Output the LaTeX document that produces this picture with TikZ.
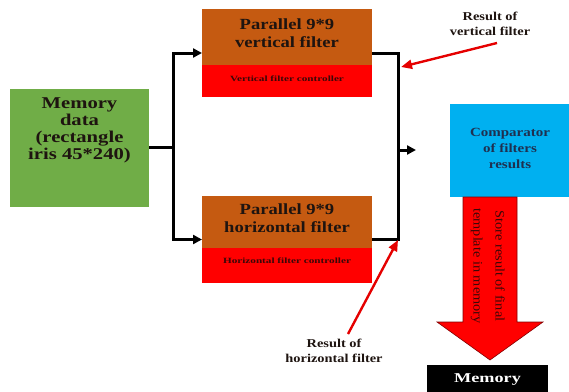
\documentclass[tikz,border=0pt]{standalone}
\usepackage{fontspec}
\setmainfont{Liberation Serif}
\usetikzlibrary{arrows.meta}
\definecolor{grn}{HTML}{70AD47}
\definecolor{brn}{HTML}{C55A11}
\definecolor{cyn}{HTML}{00B0F0}
\definecolor{txtdark}{HTML}{1E1410}
\definecolor{navy}{HTML}{1F3050}
\definecolor{ctl}{HTML}{3A0808}
\newcommand{\wtxt}[3]{\scalebox{#1}[1]{#2\begin{tabular}{@{}c@{}}#3\end{tabular}}}
\tikzset{
  box/.style={rectangle, inner sep=0pt, outer sep=0pt},
  lbl/.style={inner sep=0pt, outer sep=0pt},
  conn/.style={line width=3pt, black},
  connar/.style={conn, -{Triangle[length=9pt,width=9pt]}},
  redar/.style={line width=2.4pt, red!90!black, -{Triangle[length=11pt,width=9pt]}},
}
\begin{document}
\begin{tikzpicture}[x=1pt,y=-1pt]
\useasboundingbox (0,0) rectangle (569,391);
% memory data
\node[box, fill=grn, minimum width=139pt, minimum height=118pt] (mem) at (79.5,147.5) {};
\node[lbl, text=txtdark] (memt) at (79.5,131) {\wtxt{1.25}{\fontsize{16.5}{17}\selectfont\bfseries}{Memory\\data\\(rectangle\\iris 45*240)}};
% top filter
\node[box, fill=red, minimum width=170pt, minimum height=88pt] (topf) at (287,53) {};
\node[box, fill=brn, minimum width=170pt, minimum height=56pt, anchor=north] (topb) at (topf.north) {};
\node[lbl, text=txtdark] (topt) at (287,35) {\wtxt{1.2}{\fontsize{15.5}{18}\selectfont\bfseries}{Parallel 9*9\\vertical filter}};
\node[lbl, text=ctl] (topc) at (287,80) {\wtxt{1.4}{\fontsize{8}{9}\selectfont\bfseries}{Vertical filter controller}};
% bottom filter
\node[box, fill=red, minimum width=170pt, minimum height=87pt] (botf) at (287,239.5) {};
\node[box, fill=brn, minimum width=170pt, minimum height=52pt, anchor=north] (botb) at (botf.north) {};
\node[lbl, text=txtdark] (bott) at (287,220) {\wtxt{1.2}{\fontsize{15.5}{18}\selectfont\bfseries}{Parallel 9*9\\horizontal filter}};
\node[lbl, text=ctl] (botc) at (287,262) {\wtxt{1.4}{\fontsize{8}{9}\selectfont\bfseries}{Horizontal filter controller}};
% comparator
\node[box, fill=cyn, minimum width=119pt, minimum height=93pt] (cmp) at (509.5,150.5) {};
\node[lbl, text=navy] (cmpt) at (510,149) {\wtxt{1.2}{\fontsize{12.5}{16}\selectfont\bfseries}{Comparator\\of filters\\results}};
% memory output
\node[box, fill=black, minimum width=121pt, minimum height=32pt] (out) at (487.5,381) {};
\node[lbl, text=white] (outt) at (487.5,379) {\wtxt{1.35}{\fontsize{13.5}{15}\selectfont\bfseries}{Memory}};
% big red arrow
\draw[fill=red, draw=red!50!black, line width=0.6pt]
  (463,197) -- (517,197) -- (517,322) -- (543,322) -- (490,360) -- (437,322) -- (463,322) -- cycle;
\node[lbl, rotate=-90, text=ctl] (store) at (489,266) {\wtxt{1.1}{\fontsize{13}{22}\selectfont}{Store result of final\\template in memory}};
% connectors
\coordinate (sp) at (173,147.5);
\coordinate (jn) at (398,150);
\coordinate (ja) at (416,150);
\draw[conn] (mem.east) -- (sp);
\draw[connar] (sp) |- (topf.west);
\draw[connar] (sp) |- (botf.west);
\draw[conn] (topf.east) -| (jn);
\draw[conn] (botf.east) -| (jn);
\draw[connar] (jn) -- (ja);
% result labels
\node[lbl, text=txtdark] (rv) at (490,25) {\wtxt{1.2}{\fontsize{12}{15}\selectfont\bfseries}{Result of\\vertical filter}};
\node[lbl, text=txtdark] (rh) at (334,352) {\wtxt{1.2}{\fontsize{12}{15}\selectfont\bfseries}{Result of\\horizontal filter}};
\coordinate (rvs) at (497,43);
\coordinate (rve) at (401,67);
\coordinate (rhs) at (348,334);
\coordinate (rhe) at (398,240);
\draw[redar] (rvs) -- (rve);
\draw[redar] (rhs) -- (rhe);
\end{tikzpicture}
\end{document}
